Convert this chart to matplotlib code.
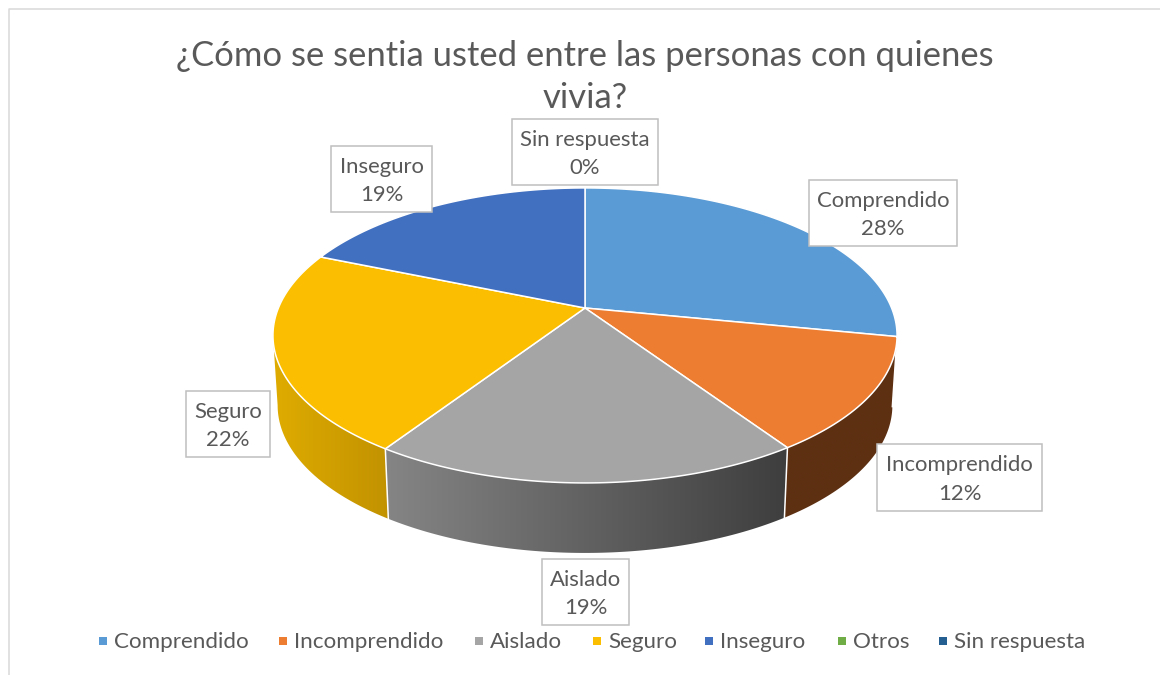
import numpy as np
import matplotlib
matplotlib.use('Agg')
import matplotlib.pyplot as plt
from matplotlib.patches import Polygon, Rectangle
from matplotlib.colors import to_rgb

plt.rcParams['font.family'] = ['Lato', 'DejaVu Sans']

title = '¿Cómo se sentia usted entre las personas con quienes\nvivia?'
categories = ['Comprendido', 'Incomprendido', 'Aislado', 'Seguro', 'Inseguro', 'Otros', 'Sin respuesta']
values = [28.1, 12.47, 18.7, 22.0, 18.73, 0, 0]
colors = ['#5B9BD5', '#ED7D31', '#A5A5A5', '#FBBE00', '#4270C0', '#70AD47', '#255E91']
wall_left = ['#5B9BD5', '#5E3012', '#858585', '#DFAC00', '#4270C0', '#70AD47', '#255E91']
wall_right = ['#5B9BD5', '#5E3012', '#3E3E3E', '#C29200', '#4270C0', '#70AD47', '#255E91']

# label boxes in pixels: left, top, right, bottom
label_boxes = {
    'Comprendido': (809, 180, 957, 246),
    'Incomprendido': (877, 444, 1042, 511),
    'Aislado': (542, 559, 629, 625),
    'Seguro': (186, 391, 270, 457),
    'Inseguro': (331, 146, 432, 212),
    'Sin respuesta': (512, 119, 658, 185),
}
legend_x = [103, 283, 479, 597, 709, 842, 943]

# pie geometry, a circle seen in perspective
cx, cy = 585, 308
rx, ry = 306.6, 142.4
persp = 0.186
depth = 70
shrink = 0.985


def rim(t):
    u, v = np.sin(t), np.cos(t)
    d = 1 + persp * v
    return cx + rx * u / d, cy - ry * v / d


def rim_low(t):
    x, y = rim(t)
    return cx + (x - cx) * shrink, y + depth


fig, ax = plt.subplots(figsize=(11.6, 6.75), dpi=100)
fig.subplots_adjust(0, 0, 1, 1)

# frame of the chart, only top and left are visible
ax.plot([1160, 9, 9], [9, 9, 675], color='#D9D9D9', lw=1.1, solid_capstyle='butt')

bounds = 2 * np.pi * np.cumsum([0] + values) / sum(values)

# side walls between the widest points of the rim, gradient runs left to right
wall_from = np.arccos(-persp)
wall_to = 2 * np.pi - wall_from
for i in range(len(values)):
    a = max(bounds[i], wall_from)
    b = min(bounds[i + 1], wall_to)
    if b <= a:
        continue
    ts = np.linspace(a, b, 150)
    xt, yt = rim(ts)
    xl, yl = rim_low(ts)
    outline = np.column_stack([np.r_[xt, xl[::-1]], np.r_[yt, yl[::-1]]])
    poly = Polygon(outline, closed=True, facecolor='none', edgecolor='none', transform=ax.transData)
    ax.add_patch(poly)
    ramp = np.linspace(0, 1, 256)[None, :, None]
    c0, c1 = np.array(to_rgb(wall_left[i])), np.array(to_rgb(wall_right[i]))
    img = ax.imshow(c0 + (c1 - c0) * ramp, aspect='auto', zorder=2, interpolation='bilinear',
                    extent=(outline[:, 0].min(), outline[:, 0].max(), outline[:, 1].max(), outline[:, 1].min()))
    img.set_clip_path(poly)

# white seams between the walls
for b in bounds[1:]:
    if wall_from < b < wall_to:
        xa, ya = rim(b)
        xb, yb = rim_low(b)
        ax.plot([xa, xb], [ya, yb], color='white', lw=1.1, zorder=3)

# top face
for i in range(len(values)):
    if values[i] == 0:
        continue
    ts = np.linspace(bounds[i], bounds[i + 1], 120)
    xs, ys = rim(ts)
    pts = np.column_stack([np.r_[cx, xs], np.r_[cy, ys]])
    ax.add_patch(Polygon(pts, closed=True, facecolor=colors[i], edgecolor='white', lw=1.1, joinstyle='round', zorder=4))

# data labels
for name, (l, t, r, b) in label_boxes.items():
    val = values[categories.index(name)]
    ax.add_patch(Rectangle((l, t), r - l, b - t, facecolor='white', edgecolor='#BFBFBF', lw=1.1, zorder=5))
    ax.text((l + r) / 2, (t + b) / 2 + 2, f'{name}\n{val:.0f}%', ha='center', va='center', fontsize=15.9,
            color='#595959', linespacing=1.52, zorder=6)

# legend
for x, name, col in zip(legend_x, categories, colors):
    ax.scatter([x], [641], marker='s', s=38, color=col, linewidths=0, zorder=5)
    ax.text(x + 11, 642, name, ha='left', va='center', fontsize=16.1, color='#595959', zorder=6)

ax.text(585, 77, title, ha='center', va='center', fontsize=24.9, color='#595959', linespacing=1.42, zorder=1)

ax.set_xlim(0, 1160)
ax.set_ylim(675, 0)
ax.axis('off')

fig.savefig('out.png', dpi=100)
